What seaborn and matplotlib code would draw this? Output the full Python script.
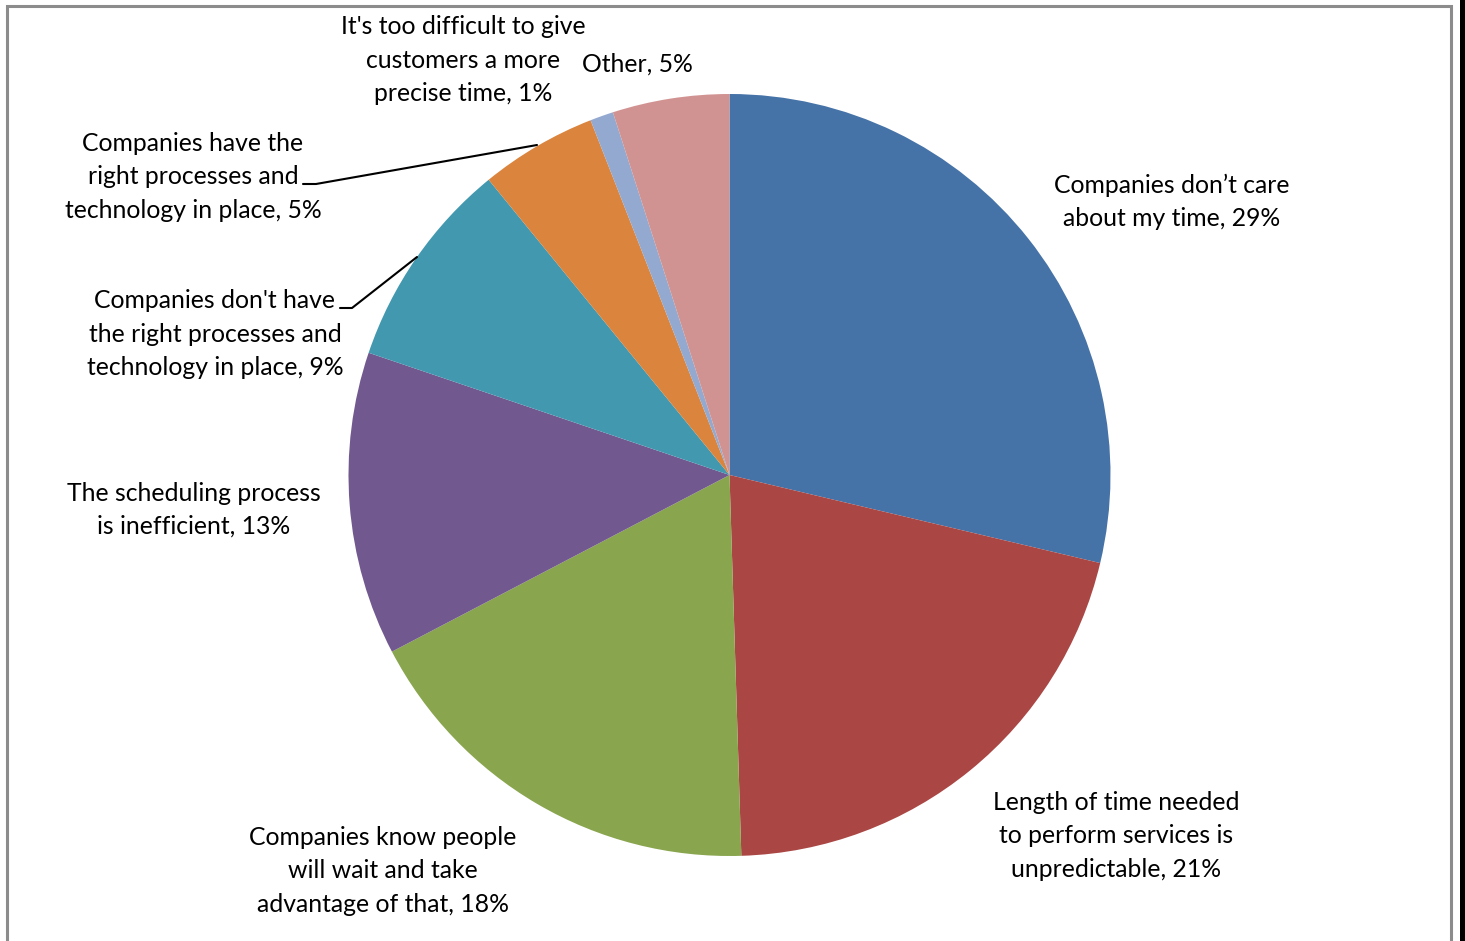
import matplotlib
matplotlib.use("Agg")
import matplotlib.pyplot as plt
import seaborn as sns
from matplotlib.patches import Rectangle
from matplotlib.lines import Line2D

categories = [
    "Companies don\u2019t care\nabout my time",
    "Length of time needed\nto perform services is\nunpredictable",
    "Companies know people\nwill wait and take\nadvantage of that",
    "The scheduling process\nis inefficient",
    "Companies don't have\nthe right processes and\ntechnology in place",
    "Companies have the\nright processes and\ntechnology in place",
    "It's too difficult to give\ncustomers a more\nprecise time",
    "Other",
]
values = [29, 21, 18, 13, 9, 5, 1, 5]
colors = ["#4572A7", "#AA4643", "#89A54E", "#71588F",
          "#4198AF", "#DB843D", "#93A9CF", "#D19392"]

sns.set_theme(style="white")
plt.rcParams["font.family"] = ["Lato", "DejaVu Sans"]

W, H = 1465, 941
fig = plt.figure(figsize=(W / 100, H / 100), dpi=100)
fig.patch.set_facecolor("white")

cx, cy, r = 729.5, 475.0, 381.0
ax = fig.add_axes([(cx - r) / W, (H - cy - r) / H, 2 * r / W, 2 * r / H])
ax.pie(values, colors=colors, startangle=90, counterclock=False,
       radius=1.0, wedgeprops=dict(linewidth=0))
ax.set_xlim(-1, 1)
ax.set_ylim(-1, 1)
ax.set_aspect("equal")
ax.axis("off")

def px2d(px, py):
    return (px - cx) / r, (cy - py) / r

# label anchor pixels (center x, center y of text block)
label_pos = [(1172, 202), (1116, 836), (383, 871), (194, 510),
             (215, 334), (193, 177), (463, 60), (637, 64)]
for cat, val, (px, py) in zip(categories, values, label_pos):
    x, y = px2d(px, py)
    ax.text(x, y, f"{cat}, {val}%", ha="center", va="center",
            fontsize=17.8, color="black", linespacing=1.53,
            clip_on=False)

# leader lines
for pts in ([(303, 184), (316, 184), (537, 145)],
            [(340, 308), (352, 308), (417, 257)]):
    xs, ys = zip(*[px2d(a, b) for a, b in pts])
    ax.add_line(Line2D(xs, ys, color="black", linewidth=1.5, clip_on=False))

# chart frame and right edge stripe
fig.add_artist(Rectangle((7 / W, -0.05), (1451 - 7) / W, (H - 5.5) / H + 0.05,
                         transform=fig.transFigure, fill=False,
                         edgecolor="#8c8c8c", linewidth=2.2))
fig.add_artist(Rectangle((1460 / W, 0), 6 / W, 1, transform=fig.transFigure,
                         facecolor="black", edgecolor="none"))

fig.savefig("out.png", dpi=100)
